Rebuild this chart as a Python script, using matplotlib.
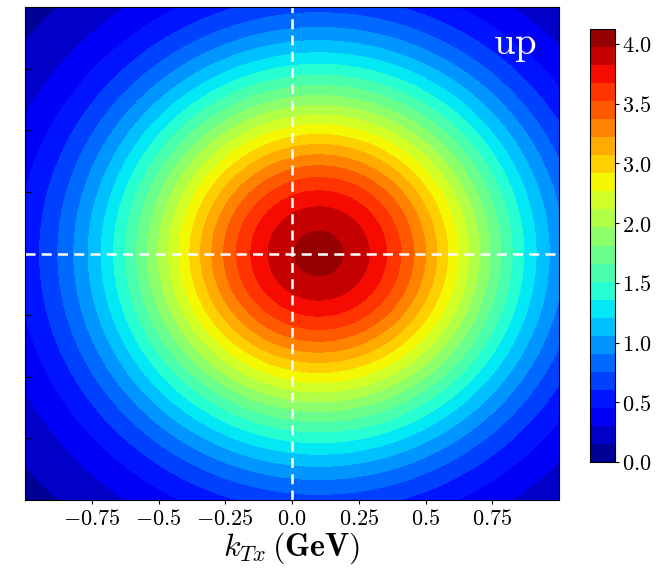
import numpy as np
import matplotlib
matplotlib.use("Agg")
import matplotlib.pyplot as plt

plt.rcParams['mathtext.fontset'] = 'cm'
plt.rcParams['font.family'] = 'serif'
plt.rcParams['font.serif'] = ['DejaVu Serif']

# distribution: peak, centre and width (GeV)
peak = 4.03
kx0, ky0 = 0.1, 0.0
width2 = 0.62          # <k_T^2>-like width of the gaussian
zmax = 4.15
n_bands = 24

xticks = [-0.75, -0.5, -0.25, 0.0, 0.25, 0.5, 0.75]
xticklabels = ['-0.75', '-0.5', '-0.25', '0.0', '0.25', '0.5', '0.75']
cbar_labels = ['0.0', '0.5', '1.0', '1.5', '2.0', '3.0', '3.5', '4.0']

kx = np.linspace(-1, 1, 501)
ky = np.linspace(-1, 1, 501)
KX, KY = np.meshgrid(kx, ky)
Z = peak * np.exp(-((KX - kx0)**2 + (KY - ky0)**2) / width2)

fig = plt.figure(figsize=(6.7, 5.73), dpi=100)
ax = fig.add_axes([25/670, 1 - 500/573, 534/670, 493/573])
cax = fig.add_axes([590/670, 1 - 462/573, 25/670, 433/573])

levels = np.linspace(0, zmax, n_bands + 1)
cs = ax.contourf(KX, KY, Z, levels=levels, cmap='jet')
ax.axvline(0, color='white', ls='--', lw=1.8, dashes=(4, 2.5))
ax.axhline(0, color='white', ls='--', lw=1.8, dashes=(4, 2.5))

ax.set_xlim(-1, 1)
ax.set_ylim(-1, 1)
ax.set_xticks(xticks)
ax.set_xticklabels([r'$\mathbf{%s}$' % t for t in xticklabels], fontsize=16)
ax.set_yticks(xticks)
ax.set_yticklabels([])
ax.tick_params(axis='y', direction='in', length=4)
ax.tick_params(axis='x', length=3, pad=3)
ax.set_xlabel(r'$\boldsymbol{k_{Tx}}\,(\mathbf{GeV})$', fontsize=23, labelpad=0)

ax.text(0.958, 0.905, r'$\mathrm{up}$', color='white', fontsize=28,
        transform=ax.transAxes, ha='right', va='baseline')

cb = fig.colorbar(cs, cax=cax)
cb_ticks = np.linspace(0, zmax * 418 / 433, len(cbar_labels))
cb.set_ticks(cb_ticks)
cb.set_ticklabels([r'$\mathbf{%s}$' % t for t in cbar_labels])
cb.ax.tick_params(labelsize=16, length=3, pad=2)

fig.savefig('out.png', dpi=100)
